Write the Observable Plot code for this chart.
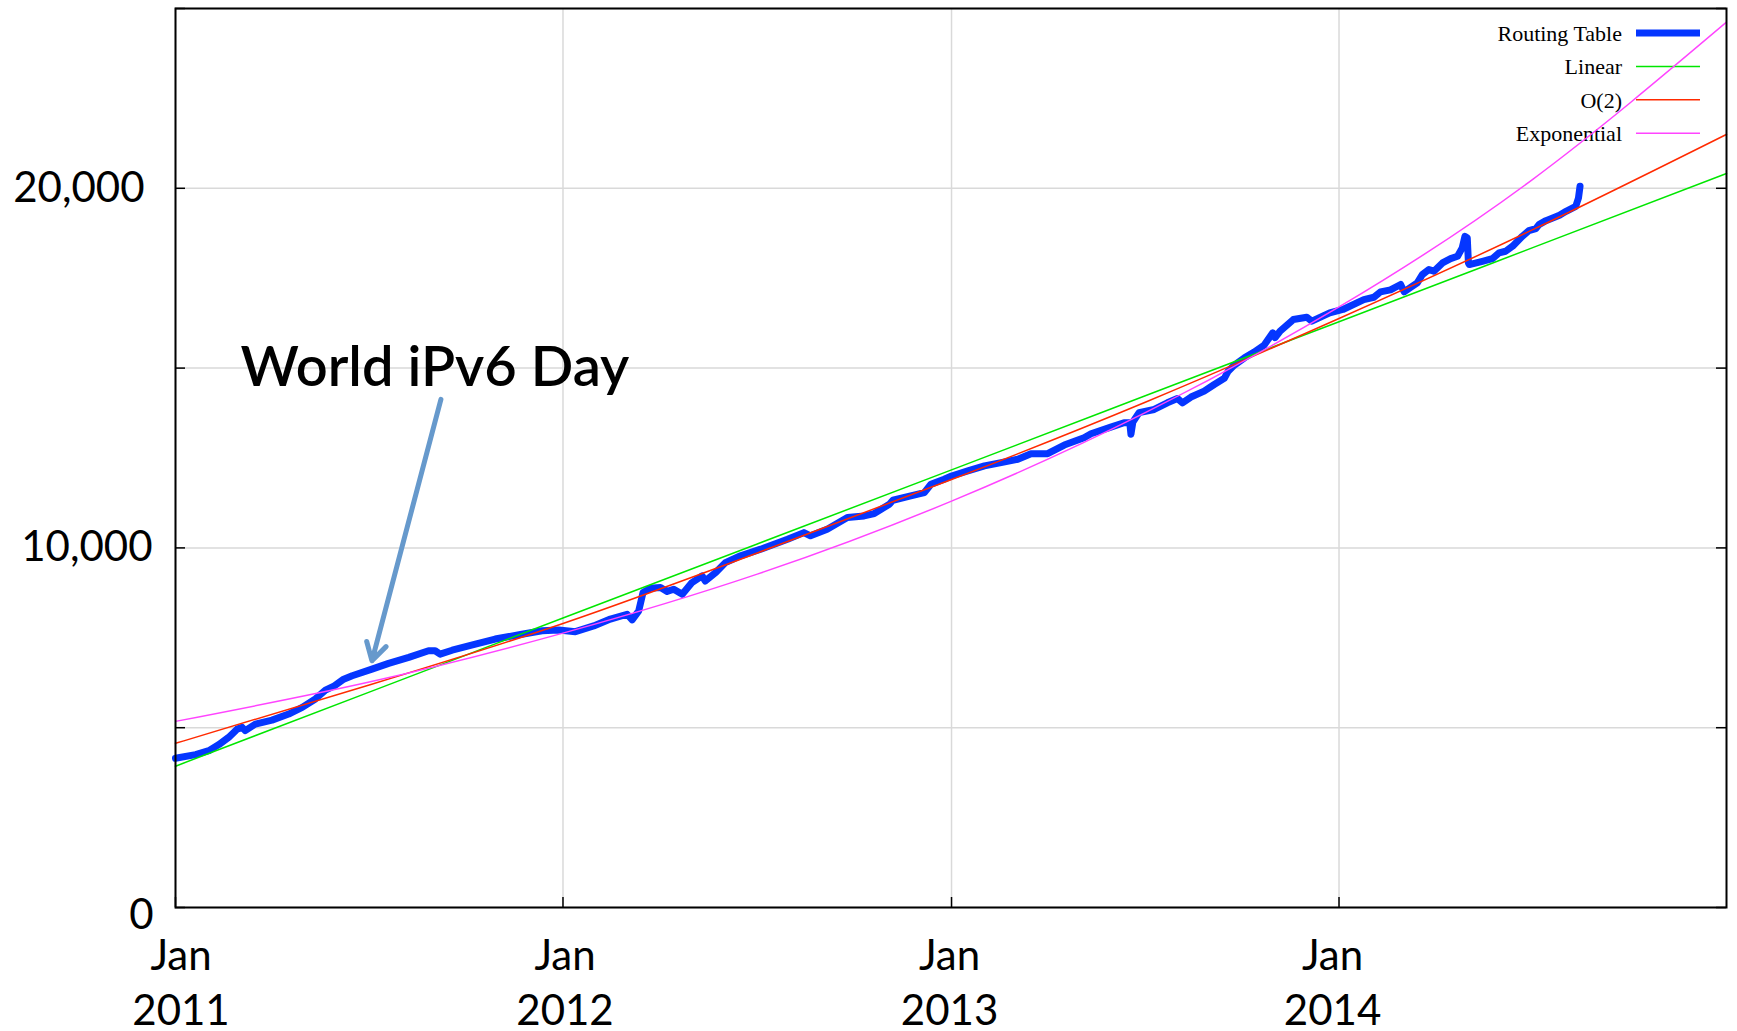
<!DOCTYPE html>
<html>
<head>
<meta charset="utf-8">
<script src="https://cdn.jsdelivr.net/npm/d3@7"></script>
<script src="https://cdn.jsdelivr.net/npm/@observablehq/plot@0.6"></script>
<style>
  html, body { margin: 0; padding: 0; background: #fff; }
</style>
</head>
<body>
<div id="chart"></div>
<script>
// ---------------- DATA ----------------
// Routing table size, decimal year -> number of entries
const routingYears = [
  2011.000, 2011.052, 2011.086, 2011.112, 2011.137, 2011.159, 2011.172, 2011.180, 2011.206, 2011.249,
  2011.292, 2011.327, 2011.361, 2011.387, 2011.410, 2011.434, 2011.456, 2011.507, 2011.550, 2011.602,
  2011.653, 2011.670, 2011.683, 2011.714, 2011.774, 2011.825, 2011.894, 2011.946, 2011.989, 2012.032,
  2012.079, 2012.122, 2012.165, 2012.178, 2012.195, 2012.206, 2012.225, 2012.251, 2012.268, 2012.285,
  2012.307, 2012.332, 2012.358, 2012.366, 2012.393, 2012.418, 2012.457, 2012.509, 2012.578, 2012.620,
  2012.637, 2012.680, 2012.732, 2012.775, 2012.801, 2012.840, 2012.849, 2012.895, 2012.930, 2012.947,
  2012.981, 2013.000, 2013.042, 2013.085, 2013.128, 2013.171, 2013.205, 2013.248, 2013.291, 2013.342,
  2013.360, 2013.411, 2013.445, 2013.460, 2013.463, 2013.468, 2013.484, 2013.523, 2013.557, 2013.583,
  2013.596, 2013.618, 2013.652, 2013.678, 2013.704, 2013.714, 2013.730, 2013.756, 2013.781, 2013.807,
  2013.829, 2013.835, 2013.848, 2013.882, 2013.917, 2013.930, 2013.976, 2014.010, 2014.064, 2014.090,
  2014.107, 2014.133, 2014.159, 2014.168, 2014.181, 2014.202, 2014.215, 2014.232, 2014.245, 2014.267,
  2014.288, 2014.306, 2014.318, 2014.325, 2014.331, 2014.334, 2014.336, 2014.370, 2014.396, 2014.413,
  2014.430, 2014.448, 2014.473, 2014.490, 2014.508, 2014.516, 2014.534, 2014.569, 2014.586, 2014.611,
  2014.618, 2014.622
];
const routingValues = [
  4150, 4250, 4360, 4530, 4730, 4960, 5010, 4920, 5100, 5210,
  5380, 5565, 5800, 6045, 6165, 6350, 6445, 6630, 6790, 6955,
  7140, 7140, 7045, 7155, 7325, 7465, 7600, 7695, 7715, 7670,
  7830, 8020, 8155, 8000, 8250, 8760, 8880, 8900, 8790, 8850,
  8710, 9035, 9220, 9080, 9315, 9590, 9780, 9965, 10240, 10425,
  10335, 10520, 10845, 10890, 10955, 11215, 11325, 11445, 11535, 11770,
  11910, 12000, 12140, 12280, 12370, 12465, 12620, 12620, 12860, 13065,
  13175, 13360, 13480, 13480, 13160, 13500, 13760, 13850, 14035, 14155,
  14035, 14195, 14360, 14545, 14715, 14915, 15085, 15285, 15445, 15640,
  15980, 15845, 16030, 16350, 16415, 16305, 16535, 16630, 16905, 16970,
  17120, 17175, 17325, 17120, 17215, 17370, 17600, 17740, 17695, 17925,
  18045, 18110, 18345, 18665, 18620, 17925, 17880, 17970, 18045, 18205,
  18250, 18390, 18665, 18825, 18880, 18990, 19100, 19250, 19360, 19500,
  19730, 20055
];

// Fitted curves, read at half-year steps
const fitYears      = [2011, 2011.5, 2012, 2012.5, 2013, 2013.5, 2014, 2014.5, 2015];
const linearValues  = [3930, 5990, 8050, 10110, 12170, 14230, 16290, 18350, 20410];
const quadValues    = [4565, 6190, 7900, 9860, 11900, 14050, 16380, 18850, 21500];
const expValues     = [5176, 6270, 7630, 9270, 11300, 13760, 16700, 20250, 24620];

// Axes
const yGridValues   = [0, 5000, 10000, 15000, 20000, 25000];
const xTickYears    = [2011, 2012, 2013, 2014];
const xTickMonth    = "Jan";
const xLabelShift   = [5.5, 2, -2, -6.5];

// Legend
const legendLabels  = ["Routing Table", "Linear", "O(2)", "Exponential"];
const legendColors  = ["#0536ff", "#00e600", "#ff2a00", "#ff44ff"];
const legendWidths  = [7, 1.5, 1.5, 1.5];

// Annotation
const annotationText = "World iPv6 Day";
const annotationAt   = {t: 2011.168, v: 14500};
const arrowFrom      = {t: 2011.685, v: 14130};
const arrowTo        = {t: 2011.507, v: 6860};

// ---------------- BUILD ----------------
const dec = t => {
  const y = Math.floor(t);
  const a = Date.UTC(y, 0, 1), b = Date.UTC(y + 1, 0, 1);
  return new Date(a + (t - y) * (b - a));
};
const routing = routingYears.map((t, i) => ({date: dec(t), value: routingValues[i]}));
const fits = fitYears.map((t, i) => ({date: dec(t), linear: linearValues[i], quad: quadValues[i], exp: expValues[i]}));
const xTicks = xTickYears.map(dec);

const W = 1737, H = 1031, mL = 175, mR = 11, mT = 8, mB = 124;
const fw = W - mL - mR, fh = H - mT - mB;
const sans = "Lato, 'Open Sans', sans-serif";

const xLabelMarks = xTicks.flatMap((d, i) => [
  Plot.axisX([d], {tickSize: 0, tickPadding: 33, dx: xLabelShift[i], fontSize: 42, fill: "black",
    tickFormat: () => xTickMonth}),
  Plot.axisX([d], {tickSize: 0, tickPadding: 88, dx: xLabelShift[i], fontSize: 42, fill: "black",
    tickFormat: v => String(v.getUTCFullYear())})
]);

const plot = Plot.plot({
  width: W, height: H,
  marginLeft: mL, marginRight: mR, marginTop: mT, marginBottom: mB,
  style: {fontFamily: sans, background: "white", color: "black", overflow: "visible"},
  x: {type: "utc", domain: [dec(2011), dec(2015)], label: null},
  y: {domain: [0, 25000], label: null},
  marks: [
    Plot.ruleY(yGridValues, {stroke: "#d9d9d9", strokeWidth: 1.5}),
    Plot.ruleX(xTicks, {stroke: "#d9d9d9", strokeWidth: 1.5}),
    Plot.tickY(yGridValues, {y: d => d, insetRight: fw - 10, stroke: "black", strokeWidth: 1.5}),
    Plot.tickY(yGridValues, {y: d => d, insetLeft: fw - 10, stroke: "black", strokeWidth: 1.5}),
    Plot.tickX(xTicks, {x: d => d, insetTop: fh - 10, stroke: "black", strokeWidth: 1.5}),
    Plot.line(routing, {x: "date", y: "value", stroke: legendColors[0], strokeWidth: legendWidths[0],
      strokeLinejoin: "round", strokeLinecap: "round"}),
    Plot.line(fits, {x: "date", y: "linear", stroke: legendColors[1], strokeWidth: legendWidths[1], curve: "natural"}),
    Plot.line(fits, {x: "date", y: "quad", stroke: legendColors[2], strokeWidth: legendWidths[2], curve: "natural"}),
    Plot.line(fits, {x: "date", y: "exp", stroke: legendColors[3], strokeWidth: legendWidths[3], curve: "natural", clip: true}),
    Plot.frame({stroke: "black", strokeWidth: 2}),
    Plot.axisY([20000], {tickSize: 0, tickPadding: 31, tickFormat: d3.format(","), fontSize: 42, fill: "black"}),
    Plot.axisY([10000], {tickSize: 0, tickPadding: 23, tickFormat: d3.format(","), fontSize: 42, fill: "black"}),
    Plot.axisY([0], {tickSize: 0, tickPadding: 22, dy: 8, tickFormat: d3.format(","), fontSize: 42, fill: "black"}),
    ...xLabelMarks,
    Plot.arrow([{x1: dec(arrowFrom.t), y1: arrowFrom.v, x2: dec(arrowTo.t), y2: arrowTo.v}],
      {x1: "x1", y1: "y1", x2: "x2", y2: "y2", stroke: "#6699cc", strokeWidth: 5, headLength: 6, headAngle: 60}),
    Plot.text([{x: dec(annotationAt.t), y: annotationAt.v, label: annotationText}],
      {x: "x", y: "y", text: "label", textAnchor: "start", lineAnchor: "bottom",
       fontSize: 56, fontWeight: 600, fill: "black"})
  ]
});

document.getElementById("chart").appendChild(plot);

// Legend inside the plot, top-right (gnuplot style key)
const svg = d3.select(plot);
const firstLine = plot.querySelector('g[aria-label="line"]');
const lg = svg.insert("g", () => firstLine).attr("class", "key");
const right = W - mR;
legendLabels.forEach((name, i) => {
  const y = mT + 25 + i * 33.4;
  lg.append("text").attr("x", right - 104).attr("y", y).attr("dy", "0.35em")
    .attr("text-anchor", "end").attr("font-family", "'Liberation Serif', 'Times New Roman', serif")
    .attr("font-size", 22).attr("fill", "black").text(name);
  lg.append("line").attr("x1", right - 90).attr("x2", right - 26).attr("y1", y).attr("y2", y)
    .attr("stroke", legendColors[i]).attr("stroke-width", legendWidths[i]);
});
</script>
</body>
</html>
